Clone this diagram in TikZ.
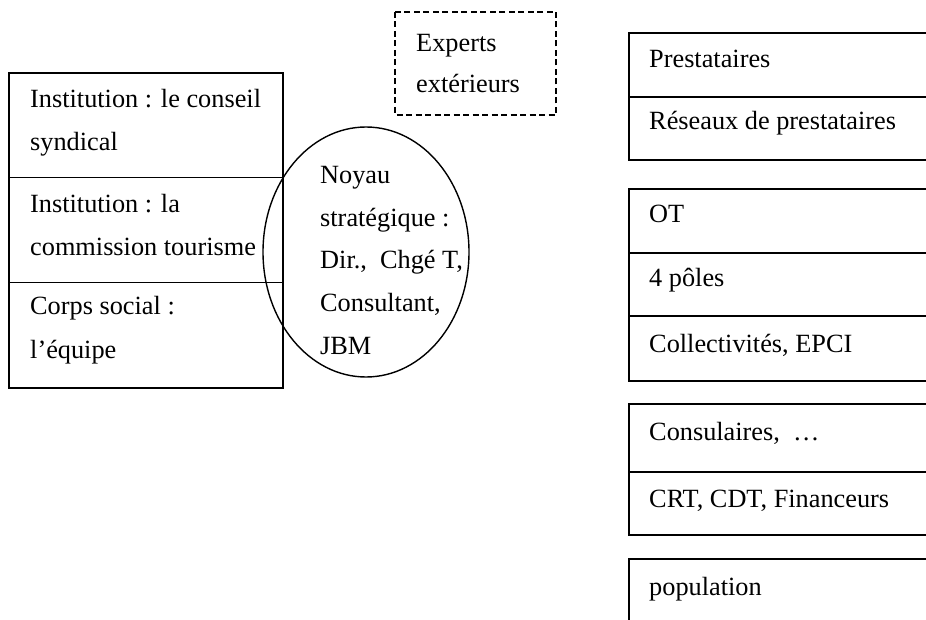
\documentclass[tikz,border=0pt]{standalone}
\usepackage{fontspec}
\setmainfont{Liberation Serif}
\usetikzlibrary{shapes.geometric}
\tikzset{
  frame/.style={draw=black, line width=1.8pt},
  dashframe/.style={draw=black, line width=1.8pt, dash pattern=on 6pt off 3.5pt},
  ring/.style={draw=black, line width=1.4pt},
  lbl/.style={anchor=base west, inner sep=0pt, font=\fontsize{26.3}{43}\selectfont}
}
\begin{document}
\begin{tikzpicture}[x=1pt,y=-1pt]
\useasboundingbox (0,0) rectangle (926,620);
\fill[white] (0,0) rectangle (926,620);

% left stack: governing bodies and staff
\draw[frame] (9,72.7) rectangle (283,388);
\draw[frame] (9,177.5) -- (283,177.5);
\draw[frame] (9,282.5) -- (283,282.5);
\node[lbl] (i1a) at (30,108) {Institution : le conseil};
\node[lbl] (i1b) at (30,151) {syndical};
\node[lbl] (i2a) at (30,212.5) {Institution : la};
\node[lbl] (i2b) at (30,255.5) {commission tourisme};
\node[lbl] (c1a) at (30,315) {Corps social :};
\node[lbl] (c1b) at (30,358) {l’équipe};

% strategic core
\draw[ring] (366,252) ellipse [x radius=103pt, y radius=125pt];
\node[lbl] (n1) at (320,184) {Noyau};
\node[lbl] (n2) at (320,226.5) {stratégique :};
\node[lbl] (n3) at (320,269) {Dir.,\ \ Chgé T,};
\node[lbl] (n4) at (320,311.5) {Consultant,};
\node[lbl] (n5) at (320,354) {JBM};

% outside experts
\draw[dashframe] (395,12) rectangle (556,115);
\node[lbl] (e1) at (416,52) {Experts};
\node[lbl] (e2) at (416,93) {extérieurs};

% right column: partner groups, open on the right
\draw[frame] (926,33) -- (629,33) -- (629,160) -- (926,160);
\draw[frame] (629,97) -- (926,97);
\node[lbl] (p1) at (649,68) {Prestataires};
\node[lbl] (p2) at (649,130) {Réseaux de prestataires};

\draw[frame] (926,189) -- (629,189) -- (629,381) -- (926,381);
\draw[frame] (629,253) -- (926,253);
\draw[frame] (629,316) -- (926,316);
\node[lbl] (o1) at (649,223) {OT};
\node[lbl] (o2) at (649,287) {4 pôles};
\node[lbl] (o3) at (649,352) {Collectivités, EPCI};

\draw[frame] (926,404) -- (629,404) -- (629,535) -- (926,535);
\draw[frame] (629,472) -- (926,472);
\node[lbl] (k1) at (649,440) {Consulaires,\ \ …};
\node[lbl] (k2) at (649,507) {CRT, CDT, Financeurs};

\draw[frame] (926,559) -- (629,559) -- (629,622);
\node[lbl] (pop) at (649,595) {population};
\end{tikzpicture}
\end{document}
